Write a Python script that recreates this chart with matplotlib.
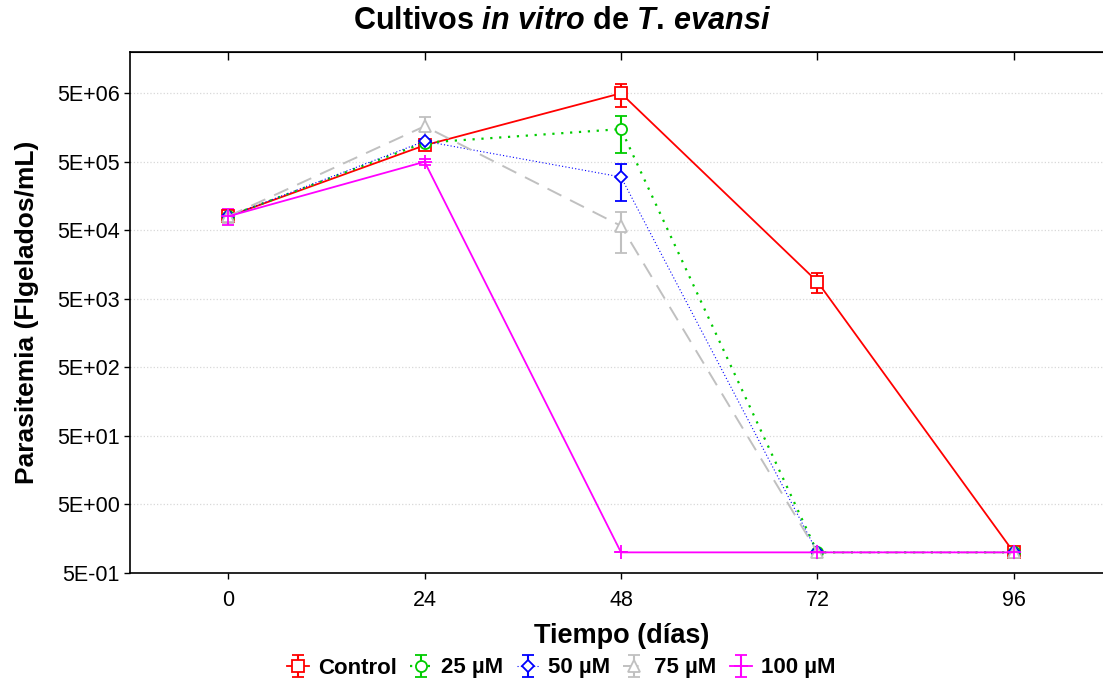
import matplotlib
matplotlib.use("Agg")
import matplotlib.pyplot as plt
from matplotlib.ticker import FixedLocator, NullLocator

plt.rcParams['font.family'] = 'Liberation Sans'
plt.rcParams['mathtext.fontset'] = 'custom'
plt.rcParams['mathtext.it'] = 'Liberation Sans:bold:italic'
plt.rcParams['mathtext.rm'] = 'Liberation Sans:bold'

# time points (days) and parasite counts per treatment
days = [0, 24, 48, 72, 96]
labels = ['Control', '25 µM', '50 µM', '75 µM', '100 µM']

control = [8.0e4, 8.7e5, 5.0e6, 8.9e3, 1]
control_err = [1.2e4, 9.0e4, 1.9e6, 2.9e3, 0]
c25 = [8.0e4, 9.5e5, 1.5e6, 1, 1]
c25_err = [1.2e4, 1.0e5, 8.3e5, 0, 0]
c50 = [8.0e4, 1.0e6, 3.0e5, 1, 1]
c50_err = [1.2e4, 8.0e4, 1.65e5, 0, 0]
c75 = [8.0e4, 1.65e6, 5.8e4, 1, 1]
c75_err = [1.5e4, 5.7e5, 3.5e4, 0, 0]
c100 = [8.0e4, 5.0e5, 1, 1, 1]
c100_err = [2.1e4, 5.0e4, 0, 0, 0]

ytick_vals = [5e-1, 5e0, 5e1, 5e2, 5e3, 5e4, 5e5, 5e6]
ytick_labels = ['5E-01', '5E+00', '5E+01', '5E+02', '5E+03', '5E+04', '5E+05', '5E+06']

fig = plt.figure(figsize=(11.03, 6.88), dpi=100)
ax = fig.add_axes([130 / 1103, 115 / 688, 982 / 1103, 521 / 688])

series = [
    (control, control_err, dict(color='#ff0000', marker='s', ms=8, ls='-', lw=1.3)),
    (c25, c25_err, dict(color='#00cc00', marker='o', ms=8, ls=(0, (1, 3)), lw=1.6)),
    (c50, c50_err, dict(color='#0000ff', marker='D', ms=6.5, ls=(0, (1, 2)), lw=0.8)),
    (c75, c75_err, dict(color='#c0c0c0', marker='^', ms=8, ls=(0, (8, 5)), lw=1.4)),
    (c100, c100_err, dict(color='#ff00ff', marker='+', ms=10, ls='-', lw=1.3)),
]

handles = []
for vals, err, st in series:
    h = ax.errorbar(days, vals, yerr=err, color=st['color'], marker=st['marker'],
                    ms=st['ms'], mfc='white', mec=st['color'], mew=1.3,
                    ls=st['ls'], lw=st['lw'], ecolor=st['color'], elinewidth=1.5,
                    capsize=4, capthick=1.5)
    handles.append(h)

ax.set_yscale('log')
ax.set_ylim(0.5, 2e7)
ax.set_xlim(-12, 108)
ax.yaxis.set_major_locator(FixedLocator(ytick_vals))
ax.yaxis.set_minor_locator(NullLocator())
ax.set_yticklabels(ytick_labels)
ax.set_xticks(days)
ax.set_xticklabels([str(d) for d in days])
ax.tick_params(axis='both', labelsize=15.5, direction='out', length=4, width=1)
ax.tick_params(axis='x', pad=8)
ax.yaxis.grid(True, linestyle=':', color='#d8d8d8', lw=0.9)
ax.set_axisbelow(True)
for s in ax.spines.values():
    s.set_linewidth(1.2)

top = ax.secondary_xaxis('top')
top.set_xticks(days)
top.tick_params(direction='in', length=6, width=1, labeltop=False)

fig.text(562 / 1103, 1 - 21 / 688, r'Cultivos $\it{in\ vitro}$ de $\it{T.\,evansi}$',
         ha='center', va='center', fontsize=22, fontweight='bold')
fig.text(622 / 1103, 1 - 636 / 688, 'Tiempo (días)', ha='center', va='center',
         fontsize=19.5, fontweight='bold')
fig.text(27 / 1103, 1 - 312 / 688, 'Parasitemia (Flgelados/mL)', ha='center',
         va='center', rotation=90, fontsize=19, fontweight='bold')

fig.legend(handles, labels, loc='center', bbox_to_anchor=(561 / 1103, 1 - 668 / 688),
           ncol=5, frameon=False, handlelength=1.0, handletextpad=0.4,
           columnspacing=0.6, prop=dict(size=16, weight='bold'))

fig.savefig('out.png', dpi=100)
